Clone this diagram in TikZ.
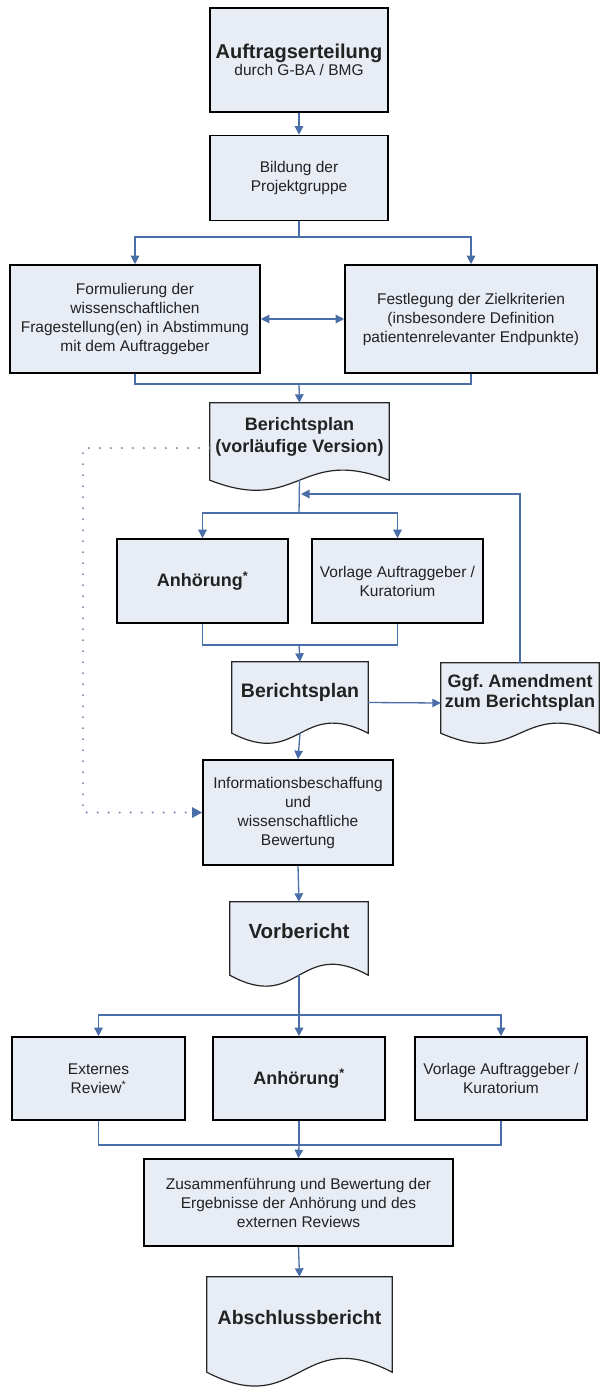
\documentclass[tikz,border=0pt]{standalone}
\usepackage{fontspec}
\setmainfont{Liberation Sans}
\usetikzlibrary{arrows.meta,calc,backgrounds}
\definecolor{fillc}{HTML}{E8ECF5}
\definecolor{linec}{HTML}{4A6FA8}
\definecolor{dotc}{HTML}{7D8FB3}
\definecolor{txtc}{HTML}{222222}
\newcommand{\docwave}[2]{%
  \begin{scope}[on background layer]
    \path[docshape] (#1.north west) -- (#1.north east) -- (#1.south east)
      .. controls ($(#1.south)+(0,-#2)$) and ($(#1.south)+(0,#2)$) .. (#1.south west) -- cycle;
  \end{scope}}
\frenchspacing
\begin{document}
\begin{tikzpicture}[x=1pt,y=-1pt,
  box/.style={draw=black, line width=1.6pt, fill=fillc, align=center, inner sep=1pt,
    font=\fontsize{15.5}{19}\selectfont, text=txtc},
  doc/.style={draw=none, align=center, inner sep=1pt, text depth=14pt,
    font=\fontsize{19.5}{23}\selectfont\bfseries, text=txtc},
  docshape/.style={draw=black!85, line width=1.2pt, fill=fillc},
  conn/.style={draw=linec, line width=1.3pt},
  arr/.style={conn, -{Triangle[length=8.5pt,width=8.5pt]}},
  dotline/.style={draw=dotc, line width=2.4pt, line cap=round, dash pattern=on 0pt off 11pt,
    -{Triangle[length=10pt,width=10pt,color=linec,fill=linec]}},
]
\useasboundingbox (0,0) rectangle (601,1388);

% nodes
\node[box, minimum width=178, minimum height=104] (b1) at (299,60)
  {{\fontsize{20}{22}\selectfont\bfseries Auftragserteilung}\\[-2pt]
   {\fontsize{15.5}{17}\selectfont durch G-BA / BMG}};
\node[box, minimum width=178, minimum height=85] (b2) at (299,178) {Bildung der\\Projektgruppe};
\node[box, minimum width=250, minimum height=108] (b3) at (135,319)
  {Formulierung der\\wissenschaftlichen\\Fragestellung(en) in Abstimmung\\mit dem Auftraggeber};
\node[box, minimum width=252, minimum height=108] (b4) at (471,319)
  {Festlegung der Zielkriterien\\(insbesondere Definition\\patientenrelevanter Endpunkte)};

\node[doc, minimum width=179, minimum height=77, font=\fontsize{18}{22}\selectfont\bfseries] (d1) at (299.5,441.5)
  {Berichtsplan\\(vorläufige Version)};
\docwave{d1}{35}

\node[box, minimum width=171, minimum height=84, font=\fontsize{18}{22}\selectfont\bfseries] (b5) at (202.5,581) {Anhörung\textsuperscript{*}};
\node[box, minimum width=171, minimum height=84] (b6) at (397.5,581) {Vorlage Auftraggeber /\\Kuratorium};

\node[doc, minimum width=136, minimum height=71] (d2) at (300,697.5) {Berichtsplan};
\docwave{d2}{35}
\node[doc, minimum width=158, minimum height=70, font=\fontsize{18}{20}\selectfont\bfseries] (d3) at (520,698)
  {Ggf. Amendment\\zum Berichtsplan};
\docwave{d3}{35}

\node[box, minimum width=190, minimum height=105] (b7) at (298,812.5)
  {Informationsbeschaffung\\und\\wissenschaftliche\\Bewertung};

\node[doc, minimum width=138, minimum height=73, font=\fontsize{20.5}{24}\selectfont\bfseries] (d4) at (299,938.5) {Vorbericht};
\docwave{d4}{38}

\node[box, minimum width=173, minimum height=83] (b8) at (98.5,1078.5) {Externes\\Review\textsuperscript{*}};
\node[box, minimum width=172, minimum height=83, font=\fontsize{18}{22}\selectfont\bfseries] (b9) at (299,1078.5) {Anhörung\textsuperscript{*}};
\node[box, minimum width=172, minimum height=83] (b10) at (501,1078.5) {Vorlage Auftraggeber /\\Kuratorium};

\node[box, minimum width=309, minimum height=87] (b11) at (298.5,1202.5)
  {Zusammenführung und Bewertung der\\Ergebnisse der Anhörung und des\\externen Reviews};

\node[doc, minimum width=185, minimum height=95] (d5) at (299.5,1324.5) {Abschlussbericht};
\docwave{d5}{48}

% helper coordinates
\coordinate (s1) at (299,237);
\coordinate (m1) at (299,384);
\coordinate (s2) at (299,513);
\coordinate (fb) at (301,494);
\coordinate (m2) at (299,645);
\coordinate (s3) at (299,1015);
\coordinate (m3) at (299,1145);
\coordinate (dl1) at (83,448);

% connectors
\draw[arr] (b1) -- (b2);
\draw[conn] (b2.south) -- (s1);
\draw[arr] (s1) -| (b3.north);
\draw[arr] (s1) -| (b4.north);
\draw[conn, {Triangle[length=8.5pt,width=8.5pt]}-{Triangle[length=8.5pt,width=8.5pt]}] (b3.east) -- (b4.west);
\draw[conn] (b3.south) |- (m1);
\draw[conn] (b4.south) |- (m1);
\draw[arr] (m1) -- (d1.north);
\draw[conn] (d1.south) -- (s2);
\draw[arr] (s2) -| (b5.north);
\draw[arr] (s2) -| (b6.north);
\draw[arr] (d3.north) |- (fb);
\draw[conn] (b5.south) |- (m2);
\draw[conn] (b6.south) |- (m2);
\draw[arr] (m2) -- (d2.north);
\draw[arr] ($(d2.east)+(0,5)$) -- ($(d3.west)+(0,5)$);
\draw[arr] (d2.south) -- (b7.north);
\draw[dotline] (d1.west |- dl1) -- (dl1) |- (b7.west);
\draw[arr] (b7.south) -- (d4.north);
\draw[conn] (d4.south) -- (s3);
\draw[arr] (s3) -| (b8.north);
\draw[arr] (s3) -- (b9.north);
\draw[arr] (s3) -| (b10.north);
\draw[conn] (b8.south) |- (m3);
\draw[conn] (b10.south) |- (m3);
\draw[conn] (b9.south) -- (m3);
\draw[arr] (m3) -- (b11.north);
\draw[arr] (b11.south) -- (d5.north);
\end{tikzpicture}
\end{document}
